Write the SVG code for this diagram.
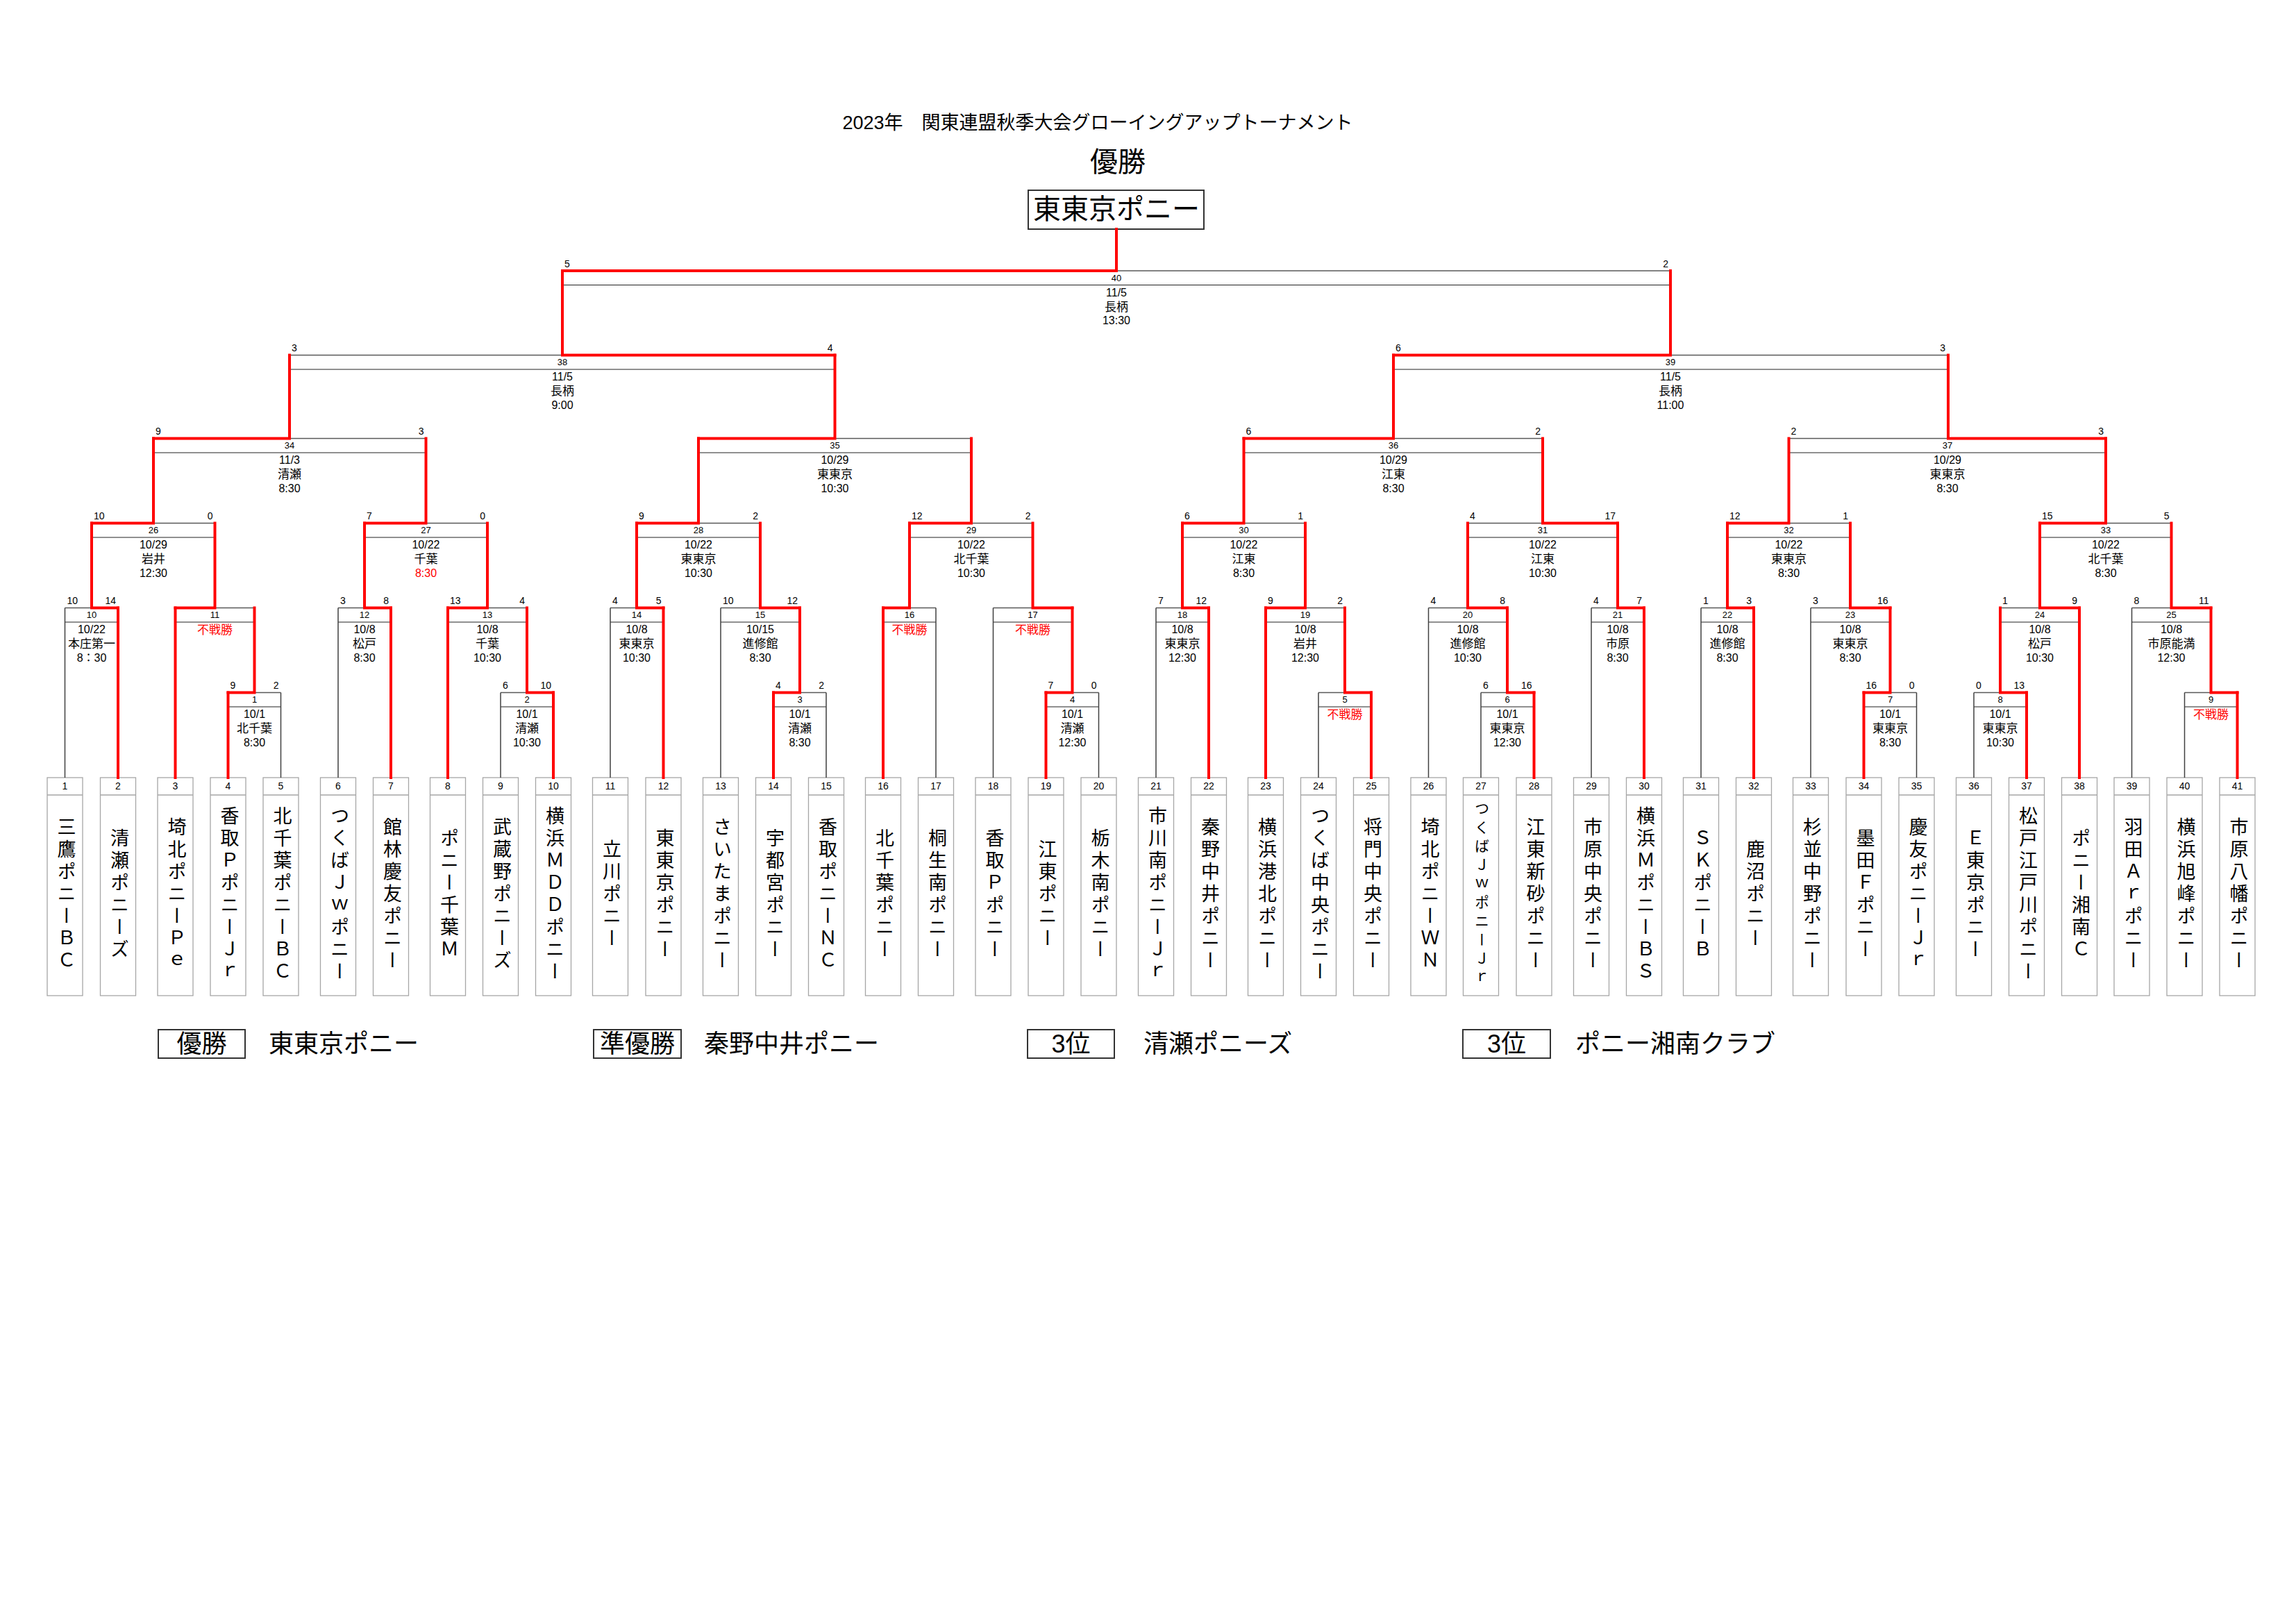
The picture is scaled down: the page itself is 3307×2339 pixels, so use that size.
<svg xmlns="http://www.w3.org/2000/svg" width="3307" height="2339" viewBox="0 0 3307 2339">
<style>
text{font-family:"Liberation Sans","Noto Sans CJK JP",sans-serif;fill:#000}
.bg{fill:#fff}
.top{stroke:#595959;stroke-width:1.5;fill:none}
.inner{stroke:#222;stroke-width:1.2;fill:none}
.conn{stroke:#404040;stroke-width:1.5;fill:none}
.red{stroke:#ff0000;stroke-width:4;fill:none;stroke-linecap:square;stroke-linejoin:miter}
.tbox{fill:#fff;stroke:#a6a6a6;stroke-width:1.3}
.num{font-size:13px;text-anchor:middle}
.sl{font-size:14px;text-anchor:start}
.sr{font-size:14px;text-anchor:end}
.dt{font-size:16px;text-anchor:middle}
.pl{font-size:17px;text-anchor:middle}
.fw{font-size:17px;text-anchor:middle;fill:#ff0000}
.rt{fill:#ff0000}
.tn{font-size:14px;text-anchor:middle}
.nm{font-size:27px;text-anchor:middle;writing-mode:vertical-rl;text-orientation:upright;letter-spacing:5px}
.nms{font-size:21px;letter-spacing:6px}
.title{font-size:27px;text-anchor:middle}
.big{font-size:40px;text-anchor:middle}
.wbox{fill:#fff;stroke:#333;stroke-width:2}
.res{font-size:36px}
.resc{font-size:36px;text-anchor:middle}
</style>
<rect class="bg" x="0" y="0" width="3307" height="2339"/>

<g id="header">
<text class="title" x="1581" y="186">2023年　関東連盟秋季大会グローイングアップトーナメント</text>
<text class="big" x="1610" y="247">優勝</text>
</g>
<g id="champion">
<rect class="wbox" x="1481" y="274" width="253" height="56"/>
<text class="big" x="1608" y="315">東東京ポニー</text>
</g>

<g id="teams">
<g id="team-1"><rect class="tbox" x="68" y="1120" width="51" height="314"/><line class="tbox" x1="68" y1="1145" x2="119" y2="1145"/><text class="tn" x="93.5" y="1137">1</text><text class="nm" x="93.5" y="1289">三鷹ポニーＢＣ</text></g>
<g id="team-2"><rect class="tbox" x="144.5" y="1120" width="51" height="314"/><line class="tbox" x1="144.5" y1="1145" x2="195.5" y2="1145"/><text class="tn" x="170" y="1137">2</text><text class="nm" x="170" y="1289">清瀬ポニーズ</text></g>
<g id="team-3"><rect class="tbox" x="227" y="1120" width="51" height="314"/><line class="tbox" x1="227" y1="1145" x2="278" y2="1145"/><text class="tn" x="252.5" y="1137">3</text><text class="nm" x="252.5" y="1289">埼北ポニーＰｅ</text></g>
<g id="team-4"><rect class="tbox" x="303" y="1120" width="51" height="314"/><line class="tbox" x1="303" y1="1145" x2="354" y2="1145"/><text class="tn" x="328.5" y="1137">4</text><text class="nm" x="328.5" y="1289">香取ＰポニーＪｒ</text></g>
<g id="team-5"><rect class="tbox" x="379" y="1120" width="51" height="314"/><line class="tbox" x1="379" y1="1145" x2="430" y2="1145"/><text class="tn" x="404.5" y="1137">5</text><text class="nm" x="404.5" y="1289">北千葉ポニーＢＣ</text></g>
<g id="team-6"><rect class="tbox" x="461.5" y="1120" width="51" height="314"/><line class="tbox" x1="461.5" y1="1145" x2="512.5" y2="1145"/><text class="tn" x="487" y="1137">6</text><text class="nm" x="487" y="1289">つくばＪｗポニー</text></g>
<g id="team-7"><rect class="tbox" x="537.5" y="1120" width="51" height="314"/><line class="tbox" x1="537.5" y1="1145" x2="588.5" y2="1145"/><text class="tn" x="563" y="1137">7</text><text class="nm" x="563" y="1289">館林慶友ポニー</text></g>
<g id="team-8"><rect class="tbox" x="619.5" y="1120" width="51" height="314"/><line class="tbox" x1="619.5" y1="1145" x2="670.5" y2="1145"/><text class="tn" x="645" y="1137">8</text><text class="nm" x="645" y="1289">ポニー千葉Ｍ</text></g>
<g id="team-9"><rect class="tbox" x="695.5" y="1120" width="51" height="314"/><line class="tbox" x1="695.5" y1="1145" x2="746.5" y2="1145"/><text class="tn" x="721" y="1137">9</text><text class="nm" x="721" y="1289">武蔵野ポニーズ</text></g>
<g id="team-10"><rect class="tbox" x="771.5" y="1120" width="51" height="314"/><line class="tbox" x1="771.5" y1="1145" x2="822.5" y2="1145"/><text class="tn" x="797" y="1137">10</text><text class="nm" x="797" y="1289">横浜ＭＤＤポニー</text></g>
<g id="team-11"><rect class="tbox" x="853.5" y="1120" width="51" height="314"/><line class="tbox" x1="853.5" y1="1145" x2="904.5" y2="1145"/><text class="tn" x="879" y="1137">11</text><text class="nm" x="879" y="1289">立川ポニー</text></g>
<g id="team-12"><rect class="tbox" x="930" y="1120" width="51" height="314"/><line class="tbox" x1="930" y1="1145" x2="981" y2="1145"/><text class="tn" x="955.5" y="1137">12</text><text class="nm" x="955.5" y="1289">東東京ポニー</text></g>
<g id="team-13"><rect class="tbox" x="1012.5" y="1120" width="51" height="314"/><line class="tbox" x1="1012.5" y1="1145" x2="1063.5" y2="1145"/><text class="tn" x="1038" y="1137">13</text><text class="nm" x="1038" y="1289">さいたまポニー</text></g>
<g id="team-14"><rect class="tbox" x="1088.5" y="1120" width="51" height="314"/><line class="tbox" x1="1088.5" y1="1145" x2="1139.5" y2="1145"/><text class="tn" x="1114" y="1137">14</text><text class="nm" x="1114" y="1289">宇都宮ポニー</text></g>
<g id="team-15"><rect class="tbox" x="1164.5" y="1120" width="51" height="314"/><line class="tbox" x1="1164.5" y1="1145" x2="1215.5" y2="1145"/><text class="tn" x="1190" y="1137">15</text><text class="nm" x="1190" y="1289">香取ポニーＮＣ</text></g>
<g id="team-16"><rect class="tbox" x="1246.5" y="1120" width="51" height="314"/><line class="tbox" x1="1246.5" y1="1145" x2="1297.5" y2="1145"/><text class="tn" x="1272" y="1137">16</text><text class="nm" x="1272" y="1289">北千葉ポニー</text></g>
<g id="team-17"><rect class="tbox" x="1322.5" y="1120" width="51" height="314"/><line class="tbox" x1="1322.5" y1="1145" x2="1373.5" y2="1145"/><text class="tn" x="1348" y="1137">17</text><text class="nm" x="1348" y="1289">桐生南ポニー</text></g>
<g id="team-18"><rect class="tbox" x="1405" y="1120" width="51" height="314"/><line class="tbox" x1="1405" y1="1145" x2="1456" y2="1145"/><text class="tn" x="1430.5" y="1137">18</text><text class="nm" x="1430.5" y="1289">香取Ｐポニー</text></g>
<g id="team-19"><rect class="tbox" x="1481" y="1120" width="51" height="314"/><line class="tbox" x1="1481" y1="1145" x2="1532" y2="1145"/><text class="tn" x="1506.5" y="1137">19</text><text class="nm" x="1506.5" y="1289">江東ポニー</text></g>
<g id="team-20"><rect class="tbox" x="1557" y="1120" width="51" height="314"/><line class="tbox" x1="1557" y1="1145" x2="1608" y2="1145"/><text class="tn" x="1582.5" y="1137">20</text><text class="nm" x="1582.5" y="1289">栃木南ポニー</text></g>
<g id="team-21"><rect class="tbox" x="1639.5" y="1120" width="51" height="314"/><line class="tbox" x1="1639.5" y1="1145" x2="1690.5" y2="1145"/><text class="tn" x="1665" y="1137">21</text><text class="nm" x="1665" y="1289">市川南ポニーＪｒ</text></g>
<g id="team-22"><rect class="tbox" x="1715.5" y="1120" width="51" height="314"/><line class="tbox" x1="1715.5" y1="1145" x2="1766.5" y2="1145"/><text class="tn" x="1741" y="1137">22</text><text class="nm" x="1741" y="1289">秦野中井ポニー</text></g>
<g id="team-23"><rect class="tbox" x="1797.5" y="1120" width="51" height="314"/><line class="tbox" x1="1797.5" y1="1145" x2="1848.5" y2="1145"/><text class="tn" x="1823" y="1137">23</text><text class="nm" x="1823" y="1289">横浜港北ポニー</text></g>
<g id="team-24"><rect class="tbox" x="1873.5" y="1120" width="51" height="314"/><line class="tbox" x1="1873.5" y1="1145" x2="1924.5" y2="1145"/><text class="tn" x="1899" y="1137">24</text><text class="nm" x="1899" y="1289">つくば中央ポニー</text></g>
<g id="team-25"><rect class="tbox" x="1949.5" y="1120" width="51" height="314"/><line class="tbox" x1="1949.5" y1="1145" x2="2000.5" y2="1145"/><text class="tn" x="1975" y="1137">25</text><text class="nm" x="1975" y="1289">将門中央ポニー</text></g>
<g id="team-26"><rect class="tbox" x="2032" y="1120" width="51" height="314"/><line class="tbox" x1="2032" y1="1145" x2="2083" y2="1145"/><text class="tn" x="2057.5" y="1137">26</text><text class="nm" x="2057.5" y="1289">埼北ポニーＷＮ</text></g>
<g id="team-27"><rect class="tbox" x="2107.5" y="1120" width="51" height="314"/><line class="tbox" x1="2107.5" y1="1145" x2="2158.5" y2="1145"/><text class="tn" x="2133" y="1137">27</text><text class="nm nms" x="2133" y="1289">つくばＪｗポニーＪｒ</text></g>
<g id="team-28"><rect class="tbox" x="2184" y="1120" width="51" height="314"/><line class="tbox" x1="2184" y1="1145" x2="2235" y2="1145"/><text class="tn" x="2209.5" y="1137">28</text><text class="nm" x="2209.5" y="1289">江東新砂ポニー</text></g>
<g id="team-29"><rect class="tbox" x="2266.5" y="1120" width="51" height="314"/><line class="tbox" x1="2266.5" y1="1145" x2="2317.5" y2="1145"/><text class="tn" x="2292" y="1137">29</text><text class="nm" x="2292" y="1289">市原中央ポニー</text></g>
<g id="team-30"><rect class="tbox" x="2342.5" y="1120" width="51" height="314"/><line class="tbox" x1="2342.5" y1="1145" x2="2393.5" y2="1145"/><text class="tn" x="2368" y="1137">30</text><text class="nm" x="2368" y="1289">横浜ＭポニーＢＳ</text></g>
<g id="team-31"><rect class="tbox" x="2424.5" y="1120" width="51" height="314"/><line class="tbox" x1="2424.5" y1="1145" x2="2475.5" y2="1145"/><text class="tn" x="2450" y="1137">31</text><text class="nm" x="2450" y="1289">ＳＫポニーＢ</text></g>
<g id="team-32"><rect class="tbox" x="2500.5" y="1120" width="51" height="314"/><line class="tbox" x1="2500.5" y1="1145" x2="2551.5" y2="1145"/><text class="tn" x="2526" y="1137">32</text><text class="nm" x="2526" y="1289">鹿沼ポニー</text></g>
<g id="team-33"><rect class="tbox" x="2582.5" y="1120" width="51" height="314"/><line class="tbox" x1="2582.5" y1="1145" x2="2633.5" y2="1145"/><text class="tn" x="2608" y="1137">33</text><text class="nm" x="2608" y="1289">杉並中野ポニー</text></g>
<g id="team-34"><rect class="tbox" x="2659" y="1120" width="51" height="314"/><line class="tbox" x1="2659" y1="1145" x2="2710" y2="1145"/><text class="tn" x="2684.5" y="1137">34</text><text class="nm" x="2684.5" y="1289">墨田Ｆポニー</text></g>
<g id="team-35"><rect class="tbox" x="2735" y="1120" width="51" height="314"/><line class="tbox" x1="2735" y1="1145" x2="2786" y2="1145"/><text class="tn" x="2760.5" y="1137">35</text><text class="nm" x="2760.5" y="1289">慶友ポニーＪｒ</text></g>
<g id="team-36"><rect class="tbox" x="2817.5" y="1120" width="51" height="314"/><line class="tbox" x1="2817.5" y1="1145" x2="2868.5" y2="1145"/><text class="tn" x="2843" y="1137">36</text><text class="nm" x="2843" y="1289">Ｅ東京ポニー</text></g>
<g id="team-37"><rect class="tbox" x="2893.5" y="1120" width="51" height="314"/><line class="tbox" x1="2893.5" y1="1145" x2="2944.5" y2="1145"/><text class="tn" x="2919" y="1137">37</text><text class="nm" x="2919" y="1289">松戸江戸川ポニー</text></g>
<g id="team-38"><rect class="tbox" x="2969.5" y="1120" width="51" height="314"/><line class="tbox" x1="2969.5" y1="1145" x2="3020.5" y2="1145"/><text class="tn" x="2995" y="1137">38</text><text class="nm" x="2995" y="1289">ポニー湘南Ｃ</text></g>
<g id="team-39"><rect class="tbox" x="3045" y="1120" width="51" height="314"/><line class="tbox" x1="3045" y1="1145" x2="3096" y2="1145"/><text class="tn" x="3070.5" y="1137">39</text><text class="nm" x="3070.5" y="1289">羽田Ａｒポニー</text></g>
<g id="team-40"><rect class="tbox" x="3121" y="1120" width="51" height="314"/><line class="tbox" x1="3121" y1="1145" x2="3172" y2="1145"/><text class="tn" x="3146.5" y="1137">40</text><text class="nm" x="3146.5" y="1289">横浜旭峰ポニー</text></g>
<g id="team-41"><rect class="tbox" x="3197" y="1120" width="51" height="314"/><line class="tbox" x1="3197" y1="1145" x2="3248" y2="1145"/><text class="tn" x="3222.5" y="1137">41</text><text class="nm" x="3222.5" y="1289">市原八幡ポニー</text></g>
</g>

<g id="matches">
<!-- Round 1, top 997.5 -->
<g id="match-1"><path class="top" d="M328.5 997.5H404.5"/><path class="inner" d="M328.5 1018H404.5"/><text class="num" x="366.5" y="1012">1</text><text class="sl" x="331.5" y="992">9</text><text class="sr" x="401.5" y="992">2</text><text class="dt" x="366.5" y="1034">10/1</text><text class="pl" x="366.5" y="1055">北千葉</text><text class="dt" x="366.5" y="1074.5">8:30</text></g>
<g id="match-2"><path class="top" d="M721 997.5H797"/><path class="inner" d="M721 1018H797"/><text class="num" x="759" y="1012">2</text><text class="sl" x="724" y="992">6</text><text class="sr" x="794" y="992">10</text><text class="dt" x="759" y="1034">10/1</text><text class="pl" x="759" y="1055">清瀬</text><text class="dt" x="759" y="1074.5">10:30</text></g>
<g id="match-3"><path class="top" d="M1114 997.5H1190"/><path class="inner" d="M1114 1018H1190"/><text class="num" x="1152" y="1012">3</text><text class="sl" x="1117" y="992">4</text><text class="sr" x="1187" y="992">2</text><text class="dt" x="1152" y="1034">10/1</text><text class="pl" x="1152" y="1055">清瀬</text><text class="dt" x="1152" y="1074.5">8:30</text></g>
<g id="match-4"><path class="top" d="M1506.5 997.5H1582.5"/><path class="inner" d="M1506.5 1018H1582.5"/><text class="num" x="1544.5" y="1012">4</text><text class="sl" x="1509.5" y="992">7</text><text class="sr" x="1579.5" y="992">0</text><text class="dt" x="1544.5" y="1034">10/1</text><text class="pl" x="1544.5" y="1055">清瀬</text><text class="dt" x="1544.5" y="1074.5">12:30</text></g>
<g id="match-5"><path class="top" d="M1899 997.5H1975"/><path class="inner" d="M1899 1018H1975"/><text class="num" x="1937" y="1012">5</text><text class="fw" x="1937" y="1034.5">不戦勝</text></g>
<g id="match-6"><path class="top" d="M2133 997.5H2209.5"/><path class="inner" d="M2133 1018H2209.5"/><text class="num" x="2171" y="1012">6</text><text class="sl" x="2136" y="992">6</text><text class="sr" x="2206.5" y="992">16</text><text class="dt" x="2171" y="1034">10/1</text><text class="pl" x="2171" y="1055">東東京</text><text class="dt" x="2171" y="1074.5">12:30</text></g>
<g id="match-7"><path class="top" d="M2684.5 997.5H2760.5"/><path class="inner" d="M2684.5 1018H2760.5"/><text class="num" x="2722.5" y="1012">7</text><text class="sl" x="2687.5" y="992">16</text><text class="sr" x="2757.5" y="992">0</text><text class="dt" x="2722.5" y="1034">10/1</text><text class="pl" x="2722.5" y="1055">東東京</text><text class="dt" x="2722.5" y="1074.5">8:30</text></g>
<g id="match-8"><path class="top" d="M2843 997.5H2919"/><path class="inner" d="M2843 1018H2919"/><text class="num" x="2881" y="1012">8</text><text class="sl" x="2846" y="992">0</text><text class="sr" x="2916" y="992">13</text><text class="dt" x="2881" y="1034">10/1</text><text class="pl" x="2881" y="1055">東東京</text><text class="dt" x="2881" y="1074.5">10:30</text></g>
<g id="match-9"><path class="top" d="M3146.5 997.5H3222.5"/><path class="inner" d="M3146.5 1018H3222.5"/><text class="num" x="3184.5" y="1012">9</text><text class="fw" x="3184.5" y="1034.5">不戦勝</text></g>

<!-- Round 2, top 875.5 -->
<g id="match-10"><path class="top" d="M93.5 875.5H170"/><path class="inner" d="M93.5 896H170"/><text class="num" x="132" y="890">10</text><text class="sl" x="96.5" y="870">10</text><text class="sr" x="167" y="870">14</text><text class="dt" x="132" y="912">10/22</text><text class="pl" x="132" y="933">本庄第一</text><text class="dt" x="132" y="952.5">8：30</text></g>
<g id="match-11"><path class="top" d="M252.5 875.5H366.5"/><path class="inner" d="M252.5 896H366.5"/><text class="num" x="309.5" y="890">11</text><text class="fw" x="309.5" y="912.5">不戦勝</text></g>
<g id="match-12"><path class="top" d="M487 875.5H563"/><path class="inner" d="M487 896H563"/><text class="num" x="525" y="890">12</text><text class="sl" x="490" y="870">3</text><text class="sr" x="560" y="870">8</text><text class="dt" x="525" y="912">10/8</text><text class="pl" x="525" y="933">松戸</text><text class="dt" x="525" y="952.5">8:30</text></g>
<g id="match-13"><path class="top" d="M645 875.5H759"/><path class="inner" d="M645 896H759"/><text class="num" x="702" y="890">13</text><text class="sl" x="648" y="870">13</text><text class="sr" x="756" y="870">4</text><text class="dt" x="702" y="912">10/8</text><text class="pl" x="702" y="933">千葉</text><text class="dt" x="702" y="952.5">10:30</text></g>
<g id="match-14"><path class="top" d="M879 875.5H955.5"/><path class="inner" d="M879 896H955.5"/><text class="num" x="917" y="890">14</text><text class="sl" x="882" y="870">4</text><text class="sr" x="952.5" y="870">5</text><text class="dt" x="917" y="912">10/8</text><text class="pl" x="917" y="933">東東京</text><text class="dt" x="917" y="952.5">10:30</text></g>
<g id="match-15"><path class="top" d="M1038 875.5H1152"/><path class="inner" d="M1038 896H1152"/><text class="num" x="1095" y="890">15</text><text class="sl" x="1041" y="870">10</text><text class="sr" x="1149" y="870">12</text><text class="dt" x="1095" y="912">10/15</text><text class="pl" x="1095" y="933">進修館</text><text class="dt" x="1095" y="952.5">8:30</text></g>
<g id="match-16"><path class="top" d="M1272 875.5H1348"/><path class="inner" d="M1272 896H1348"/><text class="num" x="1310" y="890">16</text><text class="fw" x="1310" y="912.5">不戦勝</text></g>
<g id="match-17"><path class="top" d="M1430.5 875.5H1544.5"/><path class="inner" d="M1430.5 896H1544.5"/><text class="num" x="1487.5" y="890">17</text><text class="fw" x="1487.5" y="912.5">不戦勝</text></g>
<g id="match-18"><path class="top" d="M1665 875.5H1741"/><path class="inner" d="M1665 896H1741"/><text class="num" x="1703" y="890">18</text><text class="sl" x="1668" y="870">7</text><text class="sr" x="1738" y="870">12</text><text class="dt" x="1703" y="912">10/8</text><text class="pl" x="1703" y="933">東東京</text><text class="dt" x="1703" y="952.5">12:30</text></g>
<g id="match-19"><path class="top" d="M1823 875.5H1937"/><path class="inner" d="M1823 896H1937"/><text class="num" x="1880" y="890">19</text><text class="sl" x="1826" y="870">9</text><text class="sr" x="1934" y="870">2</text><text class="dt" x="1880" y="912">10/8</text><text class="pl" x="1880" y="933">岩井</text><text class="dt" x="1880" y="952.5">12:30</text></g>
<g id="match-20"><path class="top" d="M2057.5 875.5H2171"/><path class="inner" d="M2057.5 896H2171"/><text class="num" x="2114" y="890">20</text><text class="sl" x="2060.5" y="870">4</text><text class="sr" x="2168" y="870">8</text><text class="dt" x="2114" y="912">10/8</text><text class="pl" x="2114" y="933">進修館</text><text class="dt" x="2114" y="952.5">10:30</text></g>
<g id="match-21"><path class="top" d="M2292 875.5H2368"/><path class="inner" d="M2292 896H2368"/><text class="num" x="2330" y="890">21</text><text class="sl" x="2295" y="870">4</text><text class="sr" x="2365" y="870">7</text><text class="dt" x="2330" y="912">10/8</text><text class="pl" x="2330" y="933">市原</text><text class="dt" x="2330" y="952.5">8:30</text></g>
<g id="match-22"><path class="top" d="M2450 875.5H2526"/><path class="inner" d="M2450 896H2526"/><text class="num" x="2488" y="890">22</text><text class="sl" x="2453" y="870">1</text><text class="sr" x="2523" y="870">3</text><text class="dt" x="2488" y="912">10/8</text><text class="pl" x="2488" y="933">進修館</text><text class="dt" x="2488" y="952.5">8:30</text></g>
<g id="match-23"><path class="top" d="M2608 875.5H2722.5"/><path class="inner" d="M2608 896H2722.5"/><text class="num" x="2665" y="890">23</text><text class="sl" x="2611" y="870">3</text><text class="sr" x="2719.5" y="870">16</text><text class="dt" x="2665" y="912">10/8</text><text class="pl" x="2665" y="933">東東京</text><text class="dt" x="2665" y="952.5">8:30</text></g>
<g id="match-24"><path class="top" d="M2881 875.5H2995"/><path class="inner" d="M2881 896H2995"/><text class="num" x="2938" y="890">24</text><text class="sl" x="2884" y="870">1</text><text class="sr" x="2992" y="870">9</text><text class="dt" x="2938" y="912">10/8</text><text class="pl" x="2938" y="933">松戸</text><text class="dt" x="2938" y="952.5">10:30</text></g>
<g id="match-25"><path class="top" d="M3070.5 875.5H3184.5"/><path class="inner" d="M3070.5 896H3184.5"/><text class="num" x="3127.5" y="890">25</text><text class="sl" x="3073.5" y="870">8</text><text class="sr" x="3181.5" y="870">11</text><text class="dt" x="3127.5" y="912">10/8</text><text class="pl" x="3127.5" y="933">市原能満</text><text class="dt" x="3127.5" y="952.5">12:30</text></g>

<!-- Round 3, top 753.5 -->
<g id="match-26"><path class="top" d="M132 753.5H309.5"/><path class="inner" d="M132 774H309.5"/><text class="num" x="221" y="768">26</text><text class="sl" x="135" y="748">10</text><text class="sr" x="306.5" y="748">0</text><text class="dt" x="221" y="790">10/29</text><text class="pl" x="221" y="811">岩井</text><text class="dt" x="221" y="830.5">12:30</text></g>
<g id="match-27"><path class="top" d="M525 753.5H702"/><path class="inner" d="M525 774H702"/><text class="num" x="613.5" y="768">27</text><text class="sl" x="528" y="748">7</text><text class="sr" x="699" y="748">0</text><text class="dt" x="613.5" y="790">10/22</text><text class="pl" x="613.5" y="811">千葉</text><text class="dt rt" x="613.5" y="830.5">8:30</text></g>
<g id="match-28"><path class="top" d="M917 753.5H1095"/><path class="inner" d="M917 774H1095"/><text class="num" x="1006" y="768">28</text><text class="sl" x="920" y="748">9</text><text class="sr" x="1092" y="748">2</text><text class="dt" x="1006" y="790">10/22</text><text class="pl" x="1006" y="811">東東京</text><text class="dt" x="1006" y="830.5">10:30</text></g>
<g id="match-29"><path class="top" d="M1310 753.5H1487.5"/><path class="inner" d="M1310 774H1487.5"/><text class="num" x="1399" y="768">29</text><text class="sl" x="1313" y="748">12</text><text class="sr" x="1484.5" y="748">2</text><text class="dt" x="1399" y="790">10/22</text><text class="pl" x="1399" y="811">北千葉</text><text class="dt" x="1399" y="830.5">10:30</text></g>
<g id="match-30"><path class="top" d="M1703 753.5H1880"/><path class="inner" d="M1703 774H1880"/><text class="num" x="1791.5" y="768">30</text><text class="sl" x="1706" y="748">6</text><text class="sr" x="1877" y="748">1</text><text class="dt" x="1791.5" y="790">10/22</text><text class="pl" x="1791.5" y="811">江東</text><text class="dt" x="1791.5" y="830.5">8:30</text></g>
<g id="match-31"><path class="top" d="M2114 753.5H2330"/><path class="inner" d="M2114 774H2330"/><text class="num" x="2222" y="768">31</text><text class="sl" x="2117" y="748">4</text><text class="sr" x="2327" y="748">17</text><text class="dt" x="2222" y="790">10/22</text><text class="pl" x="2222" y="811">江東</text><text class="dt" x="2222" y="830.5">10:30</text></g>
<g id="match-32"><path class="top" d="M2488 753.5H2665"/><path class="inner" d="M2488 774H2665"/><text class="num" x="2576.5" y="768">32</text><text class="sl" x="2491" y="748">12</text><text class="sr" x="2662" y="748">1</text><text class="dt" x="2576.5" y="790">10/22</text><text class="pl" x="2576.5" y="811">東東京</text><text class="dt" x="2576.5" y="830.5">8:30</text></g>
<g id="match-33"><path class="top" d="M2938 753.5H3127.5"/><path class="inner" d="M2938 774H3127.5"/><text class="num" x="3033" y="768">33</text><text class="sl" x="2941" y="748">15</text><text class="sr" x="3124.5" y="748">5</text><text class="dt" x="3033" y="790">10/22</text><text class="pl" x="3033" y="811">北千葉</text><text class="dt" x="3033" y="830.5">8:30</text></g>

<!-- Round 4, top 631.5 -->
<g id="match-34"><path class="top" d="M221 631.5H613.5"/><path class="inner" d="M221 652H613.5"/><text class="num" x="417" y="646">34</text><text class="sl" x="224" y="626">9</text><text class="sr" x="610.5" y="626">3</text><text class="dt" x="417" y="668">11/3</text><text class="pl" x="417" y="689">清瀬</text><text class="dt" x="417" y="708.5">8:30</text></g>
<g id="match-35"><path class="top" d="M1006 631.5H1399"/><path class="inner" d="M1006 652H1399"/><text class="num" x="1202.5" y="646">35</text><text class="dt" x="1202.5" y="668">10/29</text><text class="pl" x="1202.5" y="689">東東京</text><text class="dt" x="1202.5" y="708.5">10:30</text></g>
<g id="match-36"><path class="top" d="M1791.5 631.5H2222"/><path class="inner" d="M1791.5 652H2222"/><text class="num" x="2007" y="646">36</text><text class="sl" x="1794.5" y="626">6</text><text class="sr" x="2219" y="626">2</text><text class="dt" x="2007" y="668">10/29</text><text class="pl" x="2007" y="689">江東</text><text class="dt" x="2007" y="708.5">8:30</text></g>
<g id="match-37"><path class="top" d="M2576.5 631.5H3033"/><path class="inner" d="M2576.5 652H3033"/><text class="num" x="2805" y="646">37</text><text class="sl" x="2579.5" y="626">2</text><text class="sr" x="3030" y="626">3</text><text class="dt" x="2805" y="668">10/29</text><text class="pl" x="2805" y="689">東東京</text><text class="dt" x="2805" y="708.5">8:30</text></g>

<!-- Round 5, top 511.5 -->
<g id="match-38"><path class="top" d="M417 511.5H1202.5"/><path class="inner" d="M417 532H1202.5"/><text class="num" x="810" y="526">38</text><text class="sl" x="420" y="506">3</text><text class="sr" x="1199.5" y="506">4</text><text class="dt" x="810" y="548">11/5</text><text class="pl" x="810" y="569">長柄</text><text class="dt" x="810" y="588.5">9:00</text></g>
<g id="match-39"><path class="top" d="M2007 511.5H2806"/><path class="inner" d="M2007 532H2806"/><text class="num" x="2406" y="526">39</text><text class="sl" x="2010" y="506">6</text><text class="sr" x="2802" y="506">3</text><text class="dt" x="2406" y="548">11/5</text><text class="pl" x="2406" y="569">長柄</text><text class="dt" x="2406" y="588.5">11:00</text></g>

<!-- Final, top 390 -->
<g id="match-40"><path class="top" d="M810 390H2406"/><path class="inner" d="M810 410.5H2406"/><text class="num" x="1608" y="404.5">40</text><text class="sl" x="813" y="384.5">5</text><text class="sr" x="2403" y="384.5">2</text><text class="dt" x="1608" y="426.5">11/5</text><text class="pl" x="1608" y="447.5">長柄</text><text class="dt" x="1608" y="467">13:30</text></g>
</g>

<g id="connectors">
<path class="conn" d="M93.5 1120V875.5M170 1120V875.5M252.5 1120V875.5M328.5 1120V997.5M404.5 1120V997.5M487 1120V875.5M563 1120V875.5M645 1120V875.5M721 1120V997.5M797 1120V997.5M879 1120V875.5M955.5 1120V875.5M1038 1120V875.5M1114 1120V997.5M1190 1120V997.5M1272 1120V875.5M1348 1120V875.5M1430.5 1120V875.5M1506.5 1120V997.5M1582.5 1120V997.5M1665 1120V875.5M1741 1120V875.5M1823 1120V875.5M1899 1120V997.5M1975 1120V997.5M2057.5 1120V875.5M2133 1120V997.5M2209.5 1120V997.5M2292 1120V875.5M2368 1120V875.5M2450 1120V875.5M2526 1120V875.5M2608 1120V875.5M2684.5 1120V997.5M2760.5 1120V997.5M2843 1120V997.5M2919 1120V997.5M2995 1120V875.5M3070.5 1120V875.5M3146.5 1120V997.5M3222.5 1120V997.5"/>
<g id="winner-paths">
<path class="red" d="M170 1120V875.5M252.5 1120V875.5M328.5 1120V997.5M563 1120V875.5M645 1120V875.5M797 1120V997.5M955.5 1120V875.5M1114 1120V997.5M1272 1120V875.5M1506.5 1120V997.5M1741 1120V875.5M1823 1120V875.5M1975 1120V997.5M2209.5 1120V997.5M2368 1120V875.5M2526 1120V875.5M2684.5 1120V997.5M2919 1120V997.5M2995 1120V875.5M3222.5 1120V997.5"/>
<path class="red" d="M328.5 997.5H366.5V875.5M797 997.5H759V875.5M1114 997.5H1152V875.5M1506.5 997.5H1544.5V875.5M1975 997.5H1937V875.5M2209.5 997.5H2171V875.5M2684.5 997.5H2722.5V875.5M2919 997.5H2881V875.5M3222.5 997.5H3184.5V875.5"/>
<path class="red" d="M170 875.5H132V753.5M252.5 875.5H309.5V753.5M563 875.5H525V753.5M645 875.5H702V753.5M955.5 875.5H917V753.5M1152 875.5H1095V753.5M1272 875.5H1310V753.5M1544.5 875.5H1487.5V753.5M1741 875.5H1703V753.5M1823 875.5H1880V753.5M2171 875.5H2114V753.5M2368 875.5H2330V753.5M2526 875.5H2488V753.5M2722.5 875.5H2665V753.5M2995 875.5H2938V753.5M3184.5 875.5H3127.5V753.5"/>
<path class="red" d="M132 753.5H221V631.5M525 753.5H613.5V631.5M917 753.5H1006V631.5M1310 753.5H1399V631.5M1703 753.5H1791.5V631.5M2330 753.5H2222V631.5M2488 753.5H2576.5V631.5M2938 753.5H3033V631.5"/>
<path class="red" d="M221 631.5H417V511.5M1006 631.5H1202.5V511.5M1791.5 631.5H2007V511.5M3033 631.5H2806V511.5"/>
<path class="red" d="M1202.5 511.5H810V390M2007 511.5H2406V390"/>
<path class="red" d="M810 390H1608V330"/>
</g>
</g>

<g id="results">
<g id="result-1"><rect class="wbox" x="228" y="1483" width="125" height="41"/><text class="resc" x="290.5" y="1516">優勝</text><text class="res" x="387" y="1516">東東京ポニー</text></g>
<g id="result-2"><rect class="wbox" x="855" y="1483" width="126" height="41"/><text class="resc" x="918" y="1516">準優勝</text><text class="res" x="1014" y="1516">秦野中井ポニー</text></g>
<g id="result-3"><rect class="wbox" x="1480" y="1483" width="125" height="41"/><text class="resc" x="1542.5" y="1516">3位</text><text class="res" x="1647" y="1516">清瀬ポニーズ</text></g>
<g id="result-4"><rect class="wbox" x="2107" y="1483" width="126" height="41"/><text class="resc" x="2170" y="1516">3位</text><text class="res" x="2269" y="1516">ポニー湘南クラブ</text></g>
</g>
</svg>
